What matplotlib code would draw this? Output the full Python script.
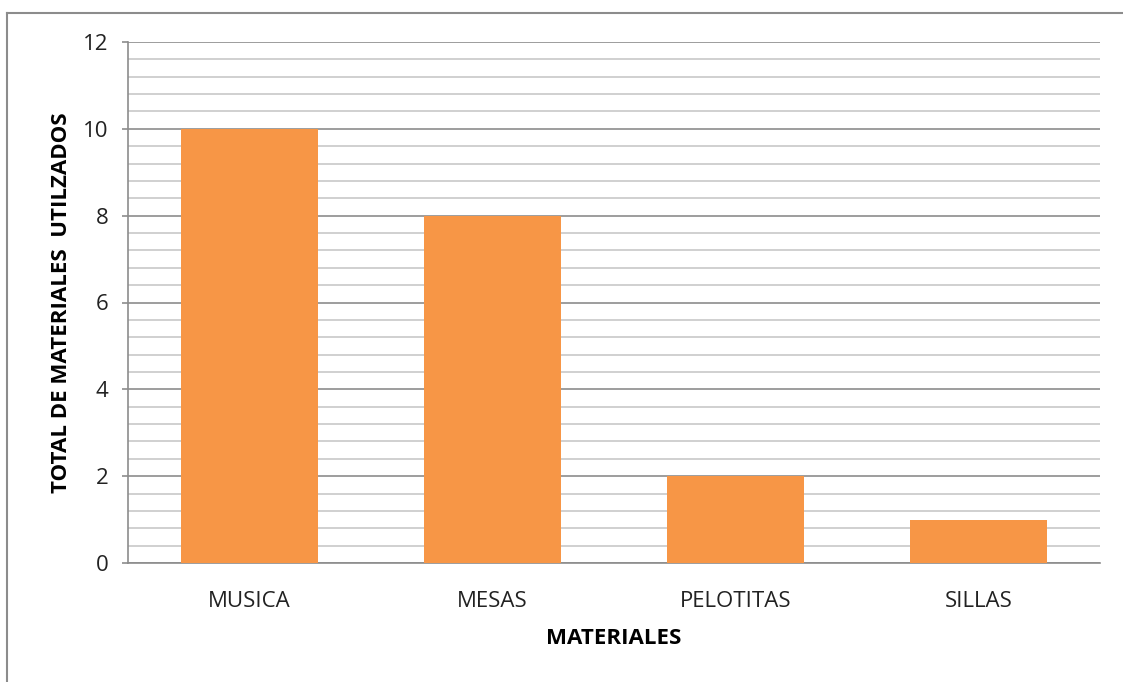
import numpy as np
import matplotlib.pyplot as plt
from matplotlib.lines import Line2D

categories = ['MUSICA', 'MESAS', 'PELOTITAS', 'SILLAS']
values = [10, 8, 2, 1]
y_ticks = [0, 2, 4, 6, 8, 10, 12]

plt.rcParams['font.family'] = ['Open Sans', 'DejaVu Sans']

fig = plt.figure(figsize=(11.23, 6.82), dpi=100)
ax = fig.add_axes([128 / 1123, 1 - 563 / 682, 972 / 1123, 521 / 682])

# border of the chart frame (only top and left are visible in the original)
fig.add_artist(Line2D([7 / 1123, 1.0], [1 - 13 / 682, 1 - 13 / 682],
                      transform=fig.transFigure, color='#8c8c8c', lw=1.5))
fig.add_artist(Line2D([7 / 1123, 7 / 1123], [0.0, 1 - 13 / 682],
                      transform=fig.transFigure, color='#8c8c8c', lw=1.5))

x = np.arange(len(categories))
ax.bar(x, values, width=0.565, color='#f79646', zorder=3)

ax.set_xlim(-0.5, len(categories) - 0.5)
ax.set_ylim(0, 12)
ax.set_yticks(y_ticks)
ax.set_yticks(np.arange(0, 12.01, 0.4), minor=True)
ax.yaxis.grid(True, which='major', color='#8c8c8c', lw=1.2, zorder=0)
ax.yaxis.grid(True, which='minor', color='#c8c8c8', lw=1.2, zorder=0)
ax.set_axisbelow(True)

ax.set_xticks(x)
ax.set_xticklabels(categories)
ax.tick_params(axis='x', length=0, pad=20, labelsize=16, labelcolor='#222222')
ax.tick_params(axis='y', which='major', length=4.3, width=1.2, color='#8c8c8c',
               pad=10, labelsize=16, labelcolor='#222222')
ax.tick_params(axis='y', which='minor', length=0)

for side in ['top', 'right']:
    ax.spines[side].set_visible(False)
ax.spines['left'].set_color('#8c8c8c')
ax.spines['left'].set_linewidth(1.2)
ax.spines['bottom'].set_color('#8c8c8c')
ax.spines['bottom'].set_linewidth(1.2)

ax.set_xlabel('MATERIALES', fontsize=16, fontweight='bold', labelpad=12)
ax.set_ylabel('TOTAL DE MATERIALES  UTILZADOS', fontsize=16, fontweight='bold',
              labelpad=8)

fig.savefig('out.png', dpi=100)
